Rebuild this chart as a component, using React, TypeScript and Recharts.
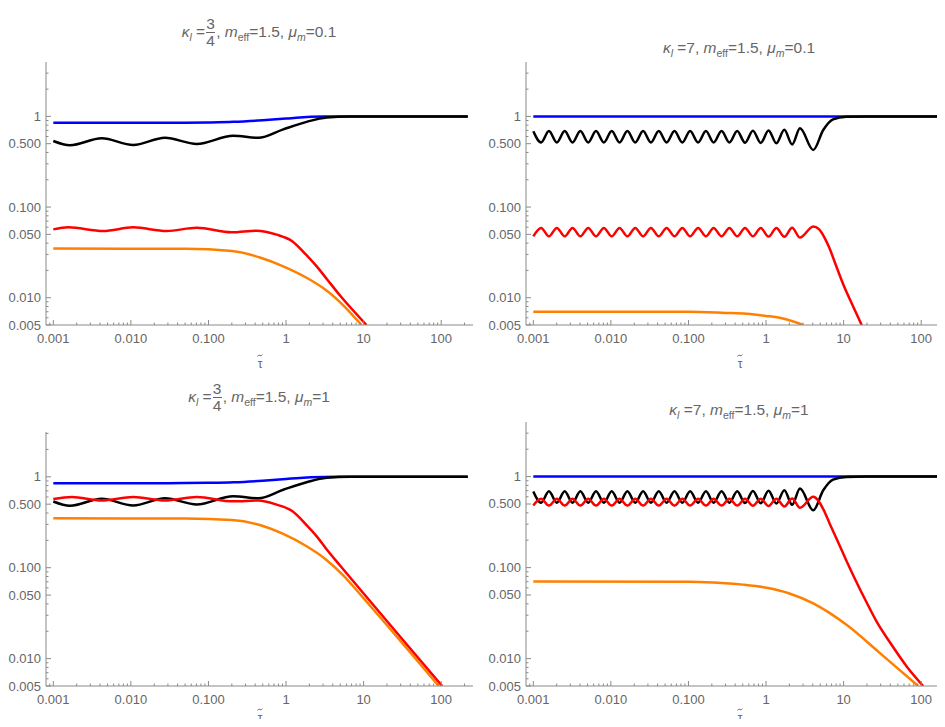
import React from "react";
import { LineChart, Line, XAxis, YAxis } from "recharts";

type Pt = { t: number; v: number };

const FRAME = "#8a8a8a";
const TEXT = "#666666";
const FONT = "'Liberation Sans', Arial, sans-serif";

const X_DOMAIN: [number, number] = [0.000805, 257];
const X_MAJOR = [0.001, 0.01, 0.1, 1, 10, 100];
const X_LABELS = ["0.001", "0.010", "0.100", "1", "10", "100"];
const X_MINOR = [
  0.0009, 0.002, 0.003, 0.004, 0.005, 0.006, 0.007, 0.008, 0.009,
  0.02, 0.03, 0.04, 0.05, 0.06, 0.07, 0.08, 0.09,
  0.2, 0.3, 0.4, 0.5, 0.6, 0.7, 0.8, 0.9,
  2, 3, 4, 5, 6, 7, 8, 9,
  20, 30, 40, 50, 60, 70, 80, 90, 200,
];
const Y_MAJOR = [0.005, 0.01, 0.05, 0.1, 0.5, 1];
const Y_LABELS = ["0.005", "0.010", "0.050", "0.100", "0.500", "1"];
const Y_MINOR = [
  0.006, 0.007, 0.008, 0.009, 0.02, 0.03, 0.04, 0.06, 0.07, 0.08, 0.09,
  0.2, 0.3, 0.4, 0.6, 0.7, 0.8, 0.9, 2, 3,
];

const M_EFF = "1.5";
const X_NAME = "τ";

// kappa_l = 3/4 (left column)
const BLUE_LEFT: Pt[] = [
  { t: 0.001, v: 0.85 }, { t: 0.03, v: 0.851 }, { t: 0.1, v: 0.858 },
  { t: 0.21, v: 0.87 }, { t: 0.5, v: 0.905 }, { t: 1.0, v: 0.945 },
  { t: 1.5, v: 0.972 }, { t: 3, v: 0.995 }, { t: 6, v: 1 }, { t: 220, v: 1 },
];
const BLACK_LEFT: Pt[] = [
  { t: 0.001, v: 0.535 }, { t: 0.00164, v: 0.48 }, { t: 0.0042, v: 0.573 },
  { t: 0.0107, v: 0.483 }, { t: 0.0275, v: 0.58 }, { t: 0.0705, v: 0.496 },
  { t: 0.209, v: 0.612 }, { t: 0.44, v: 0.58 }, { t: 0.92, v: 0.72 },
  { t: 1.84, v: 0.87 }, { t: 3.33, v: 0.975 }, { t: 6.65, v: 1 }, { t: 220, v: 1 },
];
const RED_TL: Pt[] = [
  { t: 0.001, v: 0.0567 }, { t: 0.00156, v: 0.0597 }, { t: 0.0044, v: 0.0545 },
  { t: 0.0107, v: 0.0597 }, { t: 0.0289, v: 0.0545 }, { t: 0.0705, v: 0.059 },
  { t: 0.199, v: 0.0526 }, { t: 0.418, v: 0.0549 }, { t: 0.757, v: 0.0496 },
  { t: 1.2, v: 0.042 }, { t: 1.8, v: 0.03 }, { t: 2.5, v: 0.022 },
  { t: 3.33, v: 0.0162 }, { t: 5.0, v: 0.0105 }, { t: 10.9, v: 0.005 },
];
const ORANGE_TL: Pt[] = [
  { t: 0.001, v: 0.0348 }, { t: 0.05, v: 0.0346 }, { t: 0.2, v: 0.0327 },
  { t: 0.46, v: 0.0278 }, { t: 0.92, v: 0.0222 }, { t: 1.84, v: 0.0166 },
  { t: 3.2, v: 0.0123 }, { t: 5.5, v: 0.0082 }, { t: 9.4, v: 0.005 },
];
const RED_BL: Pt[] = [
  { t: 0.001, v: 0.57 }, { t: 0.00173, v: 0.6 }, { t: 0.0042, v: 0.55 },
  { t: 0.0107, v: 0.6 }, { t: 0.0275, v: 0.55 }, { t: 0.0705, v: 0.6 },
  { t: 0.209, v: 0.537 }, { t: 0.44, v: 0.55 }, { t: 0.757, v: 0.494 },
  { t: 1.2, v: 0.42 }, { t: 1.8, v: 0.3 }, { t: 2.5, v: 0.22 },
  { t: 3.33, v: 0.16 }, { t: 5, v: 0.105 }, { t: 10, v: 0.052 },
  { t: 30, v: 0.0172 }, { t: 103, v: 0.005 },
];
const ORANGE_BL: Pt[] = [
  { t: 0.001, v: 0.349 }, { t: 0.05, v: 0.347 }, { t: 0.2, v: 0.335 },
  { t: 0.46, v: 0.295 }, { t: 0.92, v: 0.235 }, { t: 1.84, v: 0.172 },
  { t: 3.2, v: 0.125 }, { t: 5.5, v: 0.082 }, { t: 9.4, v: 0.049 },
  { t: 20, v: 0.0233 }, { t: 45, v: 0.0104 }, { t: 93, v: 0.005 },
];

// kappa_l = 7 (right column)
const BLUE_RIGHT: Pt[] = [{ t: 0.001, v: 1 }, { t: 250, v: 1 }];
const BLACK_RIGHT: Pt[] = [
  { t: 0.001, v: 0.685 }, { t: 0.00126, v: 0.515 }, { t: 0.00159, v: 0.69 },
  { t: 0.00201, v: 0.515 }, { t: 0.00254, v: 0.69 }, { t: 0.0032, v: 0.515 },
  { t: 0.00404, v: 0.69 }, { t: 0.0051, v: 0.515 }, { t: 0.00643, v: 0.69 },
  { t: 0.00812, v: 0.515 }, { t: 0.01025, v: 0.69 }, { t: 0.01293, v: 0.515 },
  { t: 0.01632, v: 0.69 }, { t: 0.0206, v: 0.515 }, { t: 0.026, v: 0.69 },
  { t: 0.0328, v: 0.515 }, { t: 0.0414, v: 0.69 }, { t: 0.0523, v: 0.515 },
  { t: 0.066, v: 0.69 }, { t: 0.0833, v: 0.515 }, { t: 0.105, v: 0.69 },
  { t: 0.133, v: 0.515 }, { t: 0.168, v: 0.69 }, { t: 0.211, v: 0.515 },
  { t: 0.267, v: 0.69 }, { t: 0.337, v: 0.515 }, { t: 0.425, v: 0.69 },
  { t: 0.536, v: 0.512 }, { t: 0.677, v: 0.695 }, { t: 0.854, v: 0.51 },
  { t: 1.078, v: 0.7 }, { t: 1.36, v: 0.505 }, { t: 1.72, v: 0.71 },
  { t: 2.17, v: 0.49 }, { t: 2.74, v: 0.74 }, { t: 4.06, v: 0.426 },
  { t: 5.46, v: 0.707 }, { t: 7.3, v: 0.927 }, { t: 10.9, v: 0.99 },
  { t: 20, v: 1 }, { t: 250, v: 1 },
];
const RED_TR: Pt[] = [
  { t: 0.001, v: 0.0475 }, { t: 0.00126, v: 0.0588 }, { t: 0.00159, v: 0.0475 },
  { t: 0.00201, v: 0.0588 }, { t: 0.00254, v: 0.0475 }, { t: 0.0032, v: 0.0588 },
  { t: 0.00404, v: 0.0475 }, { t: 0.0051, v: 0.0588 }, { t: 0.00643, v: 0.0475 },
  { t: 0.00812, v: 0.0588 }, { t: 0.01025, v: 0.0475 }, { t: 0.01293, v: 0.0588 },
  { t: 0.01632, v: 0.0475 }, { t: 0.0206, v: 0.0588 }, { t: 0.026, v: 0.0475 },
  { t: 0.0328, v: 0.0588 }, { t: 0.0414, v: 0.0475 }, { t: 0.0523, v: 0.0588 },
  { t: 0.066, v: 0.0475 }, { t: 0.0833, v: 0.0588 }, { t: 0.105, v: 0.0475 },
  { t: 0.133, v: 0.0588 }, { t: 0.168, v: 0.0475 }, { t: 0.211, v: 0.0588 },
  { t: 0.267, v: 0.0475 }, { t: 0.337, v: 0.0588 }, { t: 0.425, v: 0.0475 },
  { t: 0.536, v: 0.0588 }, { t: 0.677, v: 0.0475 }, { t: 0.854, v: 0.0588 },
  { t: 1.078, v: 0.0472 }, { t: 1.36, v: 0.0588 }, { t: 1.72, v: 0.047 },
  { t: 2.17, v: 0.059 }, { t: 2.74, v: 0.046 }, { t: 4.06, v: 0.061 },
  { t: 4.8, v: 0.057 }, { t: 5.6, v: 0.047 }, { t: 6.5, v: 0.036 },
  { t: 8.0, v: 0.0225 }, { t: 10, v: 0.0137 }, { t: 13, v: 0.0083 },
  { t: 17.1, v: 0.005 },
];
const ORANGE_TR: Pt[] = [
  { t: 0.001, v: 0.007 }, { t: 0.1, v: 0.007 }, { t: 0.3, v: 0.0068 },
  { t: 0.56, v: 0.00665 }, { t: 1.0, v: 0.0063 }, { t: 1.5, v: 0.006 },
  { t: 2.2, v: 0.0055 }, { t: 3.0, v: 0.005 },
];
const RED_BR: Pt[] = [
  { t: 0.001, v: 0.481 }, { t: 0.00126, v: 0.57 }, { t: 0.00159, v: 0.481 },
  { t: 0.00201, v: 0.57 }, { t: 0.00254, v: 0.481 }, { t: 0.0032, v: 0.57 },
  { t: 0.00404, v: 0.481 }, { t: 0.0051, v: 0.57 }, { t: 0.00643, v: 0.481 },
  { t: 0.00812, v: 0.57 }, { t: 0.01025, v: 0.481 }, { t: 0.01293, v: 0.57 },
  { t: 0.01632, v: 0.481 }, { t: 0.0206, v: 0.57 }, { t: 0.026, v: 0.481 },
  { t: 0.0328, v: 0.57 }, { t: 0.0414, v: 0.481 }, { t: 0.0523, v: 0.57 },
  { t: 0.066, v: 0.481 }, { t: 0.0833, v: 0.57 }, { t: 0.105, v: 0.481 },
  { t: 0.133, v: 0.57 }, { t: 0.168, v: 0.481 }, { t: 0.211, v: 0.57 },
  { t: 0.267, v: 0.481 }, { t: 0.337, v: 0.57 }, { t: 0.425, v: 0.481 },
  { t: 0.536, v: 0.57 }, { t: 0.677, v: 0.478 }, { t: 0.854, v: 0.57 },
  { t: 1.078, v: 0.475 }, { t: 1.36, v: 0.572 }, { t: 1.72, v: 0.47 },
  { t: 2.17, v: 0.575 }, { t: 2.74, v: 0.454 }, { t: 4.06, v: 0.6 },
  { t: 5.46, v: 0.44 }, { t: 6.66, v: 0.3 }, { t: 8.5, v: 0.19 },
  { t: 10.9, v: 0.118 }, { t: 14, v: 0.075 }, { t: 19.8, v: 0.0414 },
  { t: 27, v: 0.025 }, { t: 39.5, v: 0.0151 }, { t: 65, v: 0.0082 },
  { t: 106, v: 0.005 },
];
const ORANGE_BR: Pt[] = [
  { t: 0.001, v: 0.0703 }, { t: 0.1, v: 0.07 }, { t: 0.209, v: 0.0686 },
  { t: 0.5, v: 0.065 }, { t: 1.02, v: 0.06 }, { t: 2.0, v: 0.052 },
  { t: 4.06, v: 0.0405 }, { t: 6.5, v: 0.032 }, { t: 10.9, v: 0.0235 },
  { t: 29.4, v: 0.0115 }, { t: 91.4, v: 0.005 },
];

const X_TICKS = [...X_MAJOR, ...X_MINOR];

function makeTick(side: "b" | "t" | "l" | "r", majors: number[], labels: string[] | null) {
  return (p: any) => {
    const { x, y } = p;
    const i = majors.indexOf(p.payload.value);
    const len = i >= 0 ? 5 : 2.5;
    let line;
    if (side === "b") line = <line x1={x} x2={x} y1={y} y2={y - len} stroke={FRAME} />;
    else if (side === "t") line = <line x1={x} x2={x} y1={y} y2={y + len} stroke={FRAME} />;
    else if (side === "l") line = <line x1={x} x2={x + len} y1={y} y2={y} stroke={FRAME} />;
    else line = <line x1={x} x2={x - len} y1={y} y2={y} stroke={FRAME} />;
    let label = null;
    if (labels && i >= 0) {
      label =
        side === "b" ? (
          <text x={x} y={y + 18} textAnchor="middle" fontSize={13} fontFamily={FONT} fill={TEXT}>
            {labels[i]}
          </text>
        ) : (
          <text x={x - 5} y={y + 4.5} textAnchor="end" fontSize={13} fontFamily={FONT} fill={TEXT}>
            {labels[i]}
          </text>
        );
    }
    return (
      <g>
        {line}
        {label}
      </g>
    );
  };
}

const bottomTick = makeTick("b", X_MAJOR, X_LABELS);
const topTick = makeTick("t", X_MAJOR, null);
const leftTick = makeTick("l", Y_MAJOR, Y_LABELS);
const rightTick = makeTick("r", Y_MAJOR, null);

function Panel(props: {
  left: number; top: number; width: number; height: number; yMax: number;
  blue: Pt[]; black: Pt[]; red: Pt[]; orange: Pt[];
}) {
  const { left, top, width, height, yMax } = props;
  const ml = 60, mt = 10, mr = 10, mb = 50;
  const yTicks = [...Y_MAJOR, ...Y_MINOR].filter((v) => v < yMax * 0.98);
  const line = (data: Pt[], color: string) => (
    <Line
      data={data}
      dataKey="v"
      xAxisId="b"
      yAxisId="l"
      type="monotoneX"
      stroke={color}
      strokeWidth={2.5}
      dot={false}
      activeDot={false}
      isAnimationActive={false}
    />
  );
  return (
    <div style={{ position: "absolute", left: left - ml, top: top - mt }}>
      <LineChart
        width={width + ml + mr}
        height={height + mt + mb}
        margin={{ top: mt, right: mr, bottom: 0, left: 0 }}
      >
        <XAxis xAxisId="b" dataKey="t" type="number" scale="log" domain={X_DOMAIN}
          allowDataOverflow ticks={X_TICKS} interval={0} tick={bottomTick}
          tickLine={false} tickSize={0} tickMargin={0} height={mb}
          axisLine={{ stroke: FRAME }} />
        <XAxis xAxisId="t" orientation="top" dataKey="t" type="number" scale="log"
          domain={X_DOMAIN} allowDataOverflow ticks={X_TICKS} interval={0} tick={topTick}
          tickLine={false} tickSize={0} tickMargin={0} height={0}
          axisLine={{ stroke: FRAME }} />
        <YAxis yAxisId="l" type="number" scale="log" domain={[0.005, yMax]}
          allowDataOverflow ticks={yTicks} interval={0} tick={leftTick}
          tickLine={false} tickSize={0} tickMargin={0} width={ml}
          axisLine={{ stroke: FRAME }} />
        <YAxis yAxisId="r" orientation="right" type="number" scale="log"
          domain={[0.005, yMax]} allowDataOverflow ticks={yTicks} interval={0}
          tick={rightTick} tickLine={false} tickSize={0} tickMargin={0} width={0}
          axisLine={{ stroke: FRAME }} />
        {line(props.blue, "#0000ff")}
        {line(props.black, "#000000")}
        {line(props.orange, "#ff8000")}
        {line(props.red, "#ff0000")}
      </LineChart>
    </div>
  );
}

function Title(props: { cx: number; cy: number; kappa: string; mu: string }) {
  const parts = props.kappa.split("/");
  const kappa =
    parts.length === 2 ? (
      <span style={{ display: "inline-flex", flexDirection: "column", alignItems: "center", verticalAlign: "middle", margin: "0 1px", lineHeight: "16px" }}>
        <span>{parts[0]}</span>
        <span style={{ borderTop: `1px solid ${TEXT}`, width: 9 }} />
        <span>{parts[1]}</span>
      </span>
    ) : (
      <span>{props.kappa}</span>
    );
  return (
    <div style={{
      position: "absolute", left: props.cx - 200, top: props.cy - 25, width: 400, height: 50,
      display: "flex", alignItems: "center", justifyContent: "center",
      fontFamily: FONT, fontSize: 15.5, color: TEXT, whiteSpace: "pre",
    }}>
      <span>
        <i>κ</i><sub style={{ fontSize: 10.5 }}><i>l</i></sub>{" ="}{kappa}
        {", "}<i>m</i><sub style={{ fontSize: 10.5 }}>eff</sub>{"=" + M_EFF + ", "}
        <i>μ</i><sub style={{ fontSize: 10.5 }}><i>m</i></sub>{"=" + props.mu}
      </span>
    </div>
  );
}

// tau with a drawn tilde on top
function TauLabel(props: { cx: number; cy: number }) {
  return (
    <div style={{ position: "absolute", left: props.cx - 10, top: props.cy - 9, width: 20, height: 18 }}>
      <svg width={20} height={5} style={{ position: "absolute", left: 0, top: 0 }}>
        <path d="M7.5 3.5 Q8.7 1.2 10 2.5 T12.5 1.5" fill="none" stroke={TEXT} strokeWidth={0.9} />
      </svg>
      <div style={{
        position: "absolute", left: 0, top: 5, width: 20, textAlign: "center",
        fontFamily: FONT, fontSize: 12, lineHeight: "12px", color: TEXT,
      }}>
        {X_NAME}
      </div>
    </div>
  );
}

export default function App() {
  return (
    <div style={{ position: "relative", width: 945, height: 727, margin: -8, overflow: "hidden", background: "#fff" }}>
      <Title cx={259} cy={32} kappa="3/4" mu="0.1" />
      <Title cx={739} cy={49} kappa="7" mu="0.1" />
      <Title cx={259} cy={397} kappa="3/4" mu="1" />
      <Title cx={739} cy={411} kappa="7" mu="1" />
      <Panel left={46} top={62} width={427} height={263} yMax={3.98}
        blue={BLUE_LEFT} black={BLACK_LEFT} red={RED_TL} orange={ORANGE_TL} />
      <Panel left={526} top={62} width={427} height={263} yMax={3.98}
        blue={BLUE_RIGHT} black={BLACK_RIGHT} red={RED_TR} orange={ORANGE_TR} />
      <Panel left={46} top={432} width={427} height={254} yMax={3.11}
        blue={BLUE_LEFT} black={BLACK_LEFT} red={RED_BL} orange={ORANGE_BL} />
      <Panel left={526} top={422} width={427} height={264} yMax={3.98}
        blue={BLUE_RIGHT} black={BLACK_RIGHT} red={RED_BR} orange={ORANGE_BR} />
      <TauLabel cx={260} cy={362} />
      <TauLabel cx={740} cy={362} />
      <TauLabel cx={260} cy={716} />
      <TauLabel cx={740} cy={716} />
    </div>
  );
}
